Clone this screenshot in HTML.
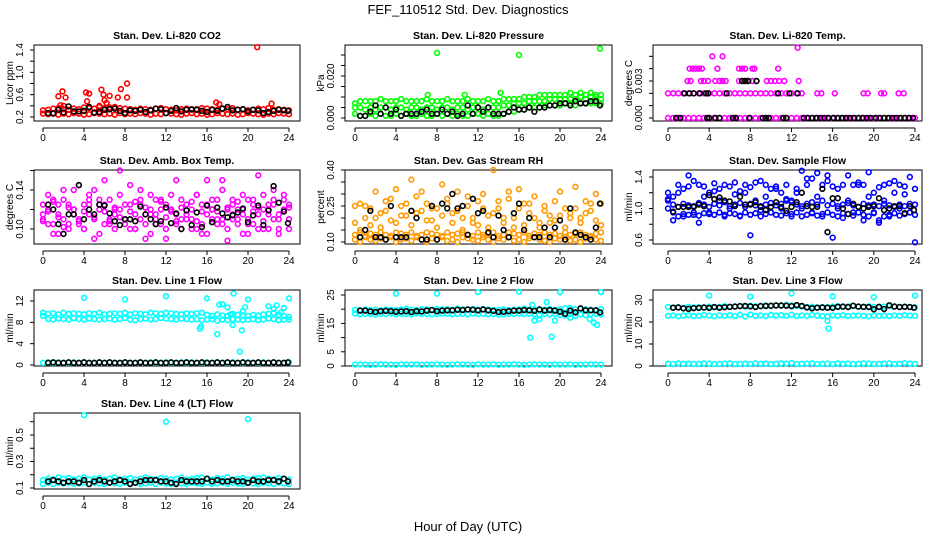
<!DOCTYPE html>
<html><head><meta charset="utf-8"><style>
body{margin:0;background:#fff}
svg{display:block;font-family:"Liberation Sans",Arial,sans-serif}
</style></head><body>
<svg id="chart" width="936" height="540" viewBox="0 0 936 540" xmlns="http://www.w3.org/2000/svg">
<rect width="936" height="540" fill="#fff"/>
<text x="468" y="14" text-anchor="middle" font-size="13">FEF_110512  Std. Dev. Diagnostics</text>
<text x="468" y="531" text-anchor="middle" font-size="13">Hour of Day (UTC)</text>
</svg>
<script>
const HOURS=[0,0.5,1,1.5,2,2.5,3,3.5,4,4.5,5,5.5,6,6.5,7,7.5,8,8.5,9,9.5,10,10.5,11,11.5,12,12.5,13,13.5,14,14.5,15,15.5,16,16.5,17,17.5,18,18.5,19,19.5,20,20.5,21,21.5,22,22.5,23,23.5,24];
const HOURS_B=[0.5,1,1.5,2,2.5,3,3.5,4,4.5,5,5.5,6,6.5,7,7.5,8,8.5,9,9.5,10,10.5,11,11.5,12,12.5,13,13.5,14,14.5,15,15.5,16,16.5,17,17.5,18,18.5,19,19.5,20,20.5,21,21.5,22,22.5,23,23.5,23.9];
const xTicks=[0,4,8,12,16,20,24];

// Panel 1 CO2
const co2Lo=[0.26,0.25,0.27,0.24,0.26,0.25,0.27,0.26,0.24,0.25,0.27,0.26,0.25,0.26,0.24,0.27,0.25,0.26,0.25,0.27,0.26,0.24,0.26,0.25,0.27,0.26,0.25,0.24,0.26,0.27,0.25,0.26,0.24,0.25,0.27,0.26,0.25,0.26,0.24,0.25,0.27,0.26,0.25,0.24,0.26,0.25,0.27,0.26,0.25];
const co2Hi=[0.32,0.33,0.35,0.36,0.34,0.33,0.35,0.34,0.37,0.36,0.35,0.38,0.36,0.37,0.38,0.36,0.35,0.34,0.33,0.35,0.34,0.33,0.35,0.36,0.34,0.33,0.32,0.34,0.35,0.33,0.34,0.36,0.35,0.34,0.33,0.35,0.34,0.36,0.33,0.34,0.32,0.33,0.35,0.34,0.36,0.33,0.34,0.33,0.32];
const co2OutHours=[1.5,1.9,2.2,4.2,4.3,4.5,5.7,5.9,6.0,6.5,7.3,7.6,8.2,8.2,16.9,17.2,20.9,22.3,2.0,5.5,6.2,1.7];
const co2OutVals=[0.57,0.66,0.55,0.64,0.48,0.62,0.69,0.6,0.5,0.58,0.55,0.7,0.8,0.55,0.46,0.43,1.45,0.44,0.4,0.4,0.45,0.41];
const co2Black=[0.27,0.26,0.33,0.28,0.39,0.3,0.3,0.31,0.38,0.28,0.29,0.33,0.34,0.35,0.31,0.27,0.32,0.31,0.33,0.29,0.32,0.35,0.34,0.27,0.31,0.36,0.3,0.33,0.34,0.33,0.31,0.29,0.33,0.31,0.35,0.38,0.32,0.33,0.34,0.3,0.33,0.32,0.27,0.29,0.31,0.33,0.32,0.31];

// Panel 2 Pressure
const prLo=[0.002,0.001,0.001,0.002,0.001,0.002,0.001,0.001,0.002,0.001,0.002,0.001,0.001,0.002,0.001,0.001,0.002,0.001,0.002,0.001,0.002,0.001,0.001,0.002,0.002,0.001,0.002,0.001,0.001,0.002,0.003,0.003,0.004,0.004,0.005,0.005,0.005,0.006,0.006,0.006,0.006,0.007,0.007,0.006,0.007,0.007,0.007,0.007,0.007];
const prMid=[0.005,0.005,0.004,0.005,0.004,0.005,0.005,0.004,0.005,0.005,0.004,0.005,0.005,0.004,0.005,0.005,0.004,0.005,0.005,0.004,0.005,0.005,0.004,0.005,0.005,0.004,0.005,0.005,0.005,0.006,0.006,0.007,0.007,0.007,0.008,0.008,0.008,0.008,0.009,0.009,0.009,0.009,0.009,0.009,0.01,0.009,0.01,0.01,0.009];
const prHi=[0.007,0.008,0.008,0.008,0.008,0.009,0.008,0.008,0.008,0.009,0.008,0.008,0.008,0.008,0.009,0.008,0.008,0.008,0.009,0.008,0.008,0.008,0.009,0.008,0.008,0.008,0.009,0.008,0.008,0.009,0.009,0.009,0.009,0.01,0.01,0.01,0.011,0.011,0.011,0.011,0.011,0.011,0.012,0.011,0.012,0.011,0.012,0.011,0.011];
const prOutHours=[8,16,23.9,10.7,14.2,7.1];
const prOutVals=[0.031,0.030,0.033,0.011,0.012,0.011];
const prBlack=[0.001,0.001,0.003,0.006,0.002,0.005,0.002,0.004,0.001,0.002,0.002,0.002,0.003,0.004,0.002,0.002,0.004,0.002,0.003,0.001,0.002,0.006,0.002,0.005,0.003,0.005,0.002,0.002,0.002,0.003,0.005,0.004,0.004,0.005,0.003,0.005,0.005,0.006,0.006,0.007,0.007,0.006,0.008,0.007,0.007,0.008,0.008,0.006];

// Panel 3 Temp
const tempL0Hours=HOURS;
const tempL2Hours=[0,0.5,1,1.5,2,2.5,3,3.5,4,4.5,5,5.5,6,6.5,7,7.5,8,8.5,9,9.5,10,10.5,11,11.5,12,12.5,13,14.5,14.9,16.2,19,19.4,20.7,21,22.4,22.9];
const tempL3Hours=[1.9,2.2,3.2,3.5,3.9,4.6,5,5.3,5.6,6.9,7.3,7.7,8.2,8.6,9.6,10,10.4,10.8,11.3,12.7];
const tempL4Hours=[2.1,2.4,2.7,3,3.3,4.8,6.9,7.2,7.5,8.2,8.4,10.7];
const tempL5Hours=[4.3,5.3,12.6];
const tempL5Vals=[0.005,0.005,0.0057];
const tempLevels=[0,0.002,0.003,0.004];
const tempBlackL0Hours=[0.8,1.2,3.8,4,4.6,5,6.3,6.6,7.9,9.2,9.5,9.8,11.2,11.5,13.2,13.6,14,14.4,14.8,15.2,15.6,16.1,16.5,16.9,17.3,17.7,18.1,18.5,18.9,19.3,19.7,20.2,20.6,21,21.4,21.8,22.2,22.6,23,23.4,23.8];
const tempBlackL2Hours=[1.6,2.1,2.5,3.1,3.7,3.9,5.7,10.7,11.8,12.6];
const tempBlackL3Hours=[7.2,7.5,7.8,8.6];

// Panel 4 Amb box temp
const ambA=[0.11,0.12,0.105,0.115,0.13,0.1,0.12,0.11,0.125,0.135,0.11,0.12,0.105,0.13,0.115,0.12,0.11,0.125,0.1,0.13,0.115,0.12,0.11,0.105,0.125,0.12,0.115,0.13,0.11,0.12,0.1,0.125,0.115,0.12,0.13,0.11,0.12,0.115,0.105,0.12,0.11,0.125,0.115,0.12,0.1,0.13,0.115,0.12,0.11];
const ambB=[0.125,0.105,0.13,0.095,0.11,0.125,0.14,0.105,0.1,0.115,0.14,0.095,0.125,0.11,0.1,0.135,0.125,0.1,0.115,0.14,0.105,0.095,0.13,0.12,0.1,0.135,0.105,0.11,0.125,0.1,0.135,0.105,0.095,0.13,0.11,0.15,0.1,0.13,0.12,0.095,0.13,0.105,0.1,0.135,0.125,0.11,0.1,0.135,0.125];
const ambC=[0.115,0.135,0.095,0.125,0.14,0.105,0.12,0.145,0.1,0.13,0.09,0.125,0.15,0.105,0.12,0.16,0.11,0.145,0.1,0.125,0.09,0.135,0.115,0.13,0.09,0.12,0.15,0.1,0.125,0.11,0.135,0.095,0.15,0.12,0.105,0.14,0.088,0.125,0.11,0.135,0.095,0.13,0.155,0.1,0.12,0.14,0.095,0.13,0.1];
const ambD=[0.108,0.118,0.128,0.112,0.102,0.122,0.115,0.108,0.118,0.125,0.112,0.13,0.118,0.108,0.122,0.112,0.105,0.118,0.128,0.11,0.122,0.115,0.105,0.128,0.112,0.118,0.108,0.122,0.115,0.128,0.108,0.118,0.125,0.11,0.118,0.105,0.122,0.11,0.128,0.115,0.105,0.118,0.122,0.108,0.115,0.125,0.11,0.118,0.122];
const ambBlack=[0.125,0.12,0.105,0.095,0.115,0.115,0.145,0.11,0.12,0.115,0.125,0.124,0.116,0.108,0.104,0.11,0.11,0.108,0.123,0.115,0.11,0.105,0.108,0.122,0.106,0.116,0.1,0.119,0.104,0.117,0.102,0.124,0.107,0.122,0.116,0.112,0.114,0.117,0.121,0.107,0.114,0.124,0.104,0.119,0.144,0.127,0.118,0.106];

// Panel 5 RH
const rhA=[0.11,0.1,0.12,0.11,0.105,0.115,0.11,0.12,0.1,0.11,0.115,0.105,0.12,0.11,0.1,0.115,0.11,0.12,0.105,0.11,0.1,0.12,0.115,0.11,0.105,0.12,0.11,0.1,0.115,0.11,0.12,0.105,0.11,0.1,0.115,0.12,0.11,0.105,0.1,0.115,0.11,0.12,0.105,0.11,0.1,0.115,0.12,0.11,0.105];
const rhB=[0.13,0.14,0.125,0.135,0.13,0.14,0.13,0.125,0.14,0.135,0.13,0.14,0.125,0.13,0.14,0.135,0.13,0.125,0.14,0.13,0.135,0.14,0.13,0.125,0.14,0.13,0.135,0.14,0.125,0.13,0.14,0.135,0.13,0.14,0.125,0.135,0.13,0.14,0.13,0.135,0.125,0.14,0.13,0.135,0.14,0.13,0.125,0.135,0.14];
const rhC=[0.18,0.26,0.2,0.24,0.31,0.22,0.27,0.19,0.32,0.25,0.21,0.36,0.29,0.23,0.26,0.19,0.24,0.34,0.28,0.22,0.31,0.2,0.25,0.18,0.27,0.3,0.21,0.4,0.24,0.2,0.28,0.16,0.32,0.26,0.22,0.29,0.18,0.25,0.21,0.19,0.31,0.24,0.22,0.33,0.2,0.27,0.23,0.3,0.26];
const rhD=[0.25,0.15,0.25,0.17,0.2,0.16,0.23,0.28,0.18,0.21,0.26,0.17,0.22,0.31,0.19,0.24,0.16,0.21,0.26,0.18,0.23,0.15,0.29,0.2,0.17,0.24,0.16,0.22,0.27,0.18,0.31,0.2,0.24,0.17,0.26,0.2,0.16,0.23,0.18,0.27,0.21,0.16,0.2,0.24,0.18,0.22,0.26,0.19,0.17];
const rhBlack=[0.12,0.15,0.23,0.12,0.12,0.11,0.25,0.12,0.12,0.12,0.23,0.2,0.11,0.11,0.25,0.11,0.26,0.24,0.3,0.24,0.25,0.13,0.28,0.22,0.23,0.14,0.12,0.21,0.15,0.12,0.22,0.26,0.15,0.2,0.12,0.12,0.16,0.12,0.16,0.19,0.11,0.24,0.14,0.13,0.12,0.11,0.16,0.26];

// Panel 6 Sample flow
const sfA=[1.0,0.95,0.9,0.93,0.92,0.95,0.91,0.94,0.93,0.92,0.95,0.9,0.94,0.93,0.91,0.95,0.92,0.94,0.9,0.93,0.95,0.92,0.91,0.94,0.93,0.95,0.9,0.92,0.94,0.91,0.93,0.95,0.92,0.9,0.94,0.93,0.91,0.95,0.92,0.9,0.94,0.85,0.9,0.92,0.94,0.91,0.93,0.95,0.92];
const sfB=[1.1,1.05,1.02,1.06,1.04,1.03,1.07,1.05,1.02,1.06,1.04,1.08,1.03,1.05,1.07,1.02,1.06,1.04,1.03,1.05,1.07,1.04,1.06,1.1,1.08,1.05,1.03,1.06,1.08,1.05,1.1,1.04,1.06,1.03,1.05,1.07,1.04,1.02,1.06,1.04,1.05,1.03,1.06,1.04,1.02,1.05,1.03,1.06,1.05];
const sfC=[1.2,1.15,1.3,1.25,1.42,1.35,1.3,1.28,1.2,1.32,1.25,1.3,1.28,1.33,1.22,1.3,1.27,1.33,1.35,1.3,1.25,1.28,1.2,1.3,1.1,1.25,1.48,1.3,1.38,1.45,1.3,1.42,1.28,1.25,1.3,1.42,1.3,1.33,1.3,1.46,1.2,1.27,1.3,1.32,1.35,1.3,1.28,1.4,1.25];
const sfD=[1.12,0.85,1.2,0.9,1.28,0.92,0.82,1.15,0.95,1.22,1.1,0.92,1.0,1.18,0.9,1.2,0.66,1.1,0.98,1.15,0.95,1.25,1.0,1.12,0.9,1.2,1.0,1.38,0.95,1.15,0.9,1.35,0.63,1.0,0.88,1.1,0.95,1.3,0.85,1.15,0.95,0.82,1.1,0.9,1.2,1.0,1.18,0.95,0.57];
const sfBlack=[0.96,1.02,1.02,1.02,1.02,1.05,1.03,1.17,1.12,1.14,1.1,1.09,1.03,1.15,1.05,1.05,1.08,1.02,0.98,1.02,1.08,1.02,0.97,1.02,1.08,1.2,1.03,1.02,1.02,1.25,0.7,1.13,1.13,1.0,0.93,1.06,1.02,1.0,1.02,1.03,1.13,0.98,1.0,1.03,1.03,0.94,1.03,0.98];

// Panel 7 Line 1
const l1A=[9.2,8.6,8.5,8.7,8.6,8.5,8.8,8.6,8.5,8.7,8.6,8.5,8.6,8.7,8.5,8.6,8.8,8.5,8.4,8.6,8.7,8.5,8.6,8.8,8.7,8.6,8.5,8.7,8.6,8.5,8.6,8.4,8.5,8.6,8.3,8.5,8.4,8.6,8.5,8.4,8.5,8.6,8.4,8.5,8.7,8.6,8.4,8.5,8.5];
const l1B=[9.8,9.6,9.7,9.5,9.8,9.6,9.7,9.6,9.5,9.7,9.6,9.8,9.5,9.6,9.7,9.6,9.8,9.5,9.7,9.6,9.5,9.8,9.7,9.6,9.8,9.7,9.6,9.5,9.7,9.6,9.7,9.8,9.4,9.2,9.5,9.3,9.2,9.6,9.4,9.3,9.2,9.4,9.3,9.5,9.6,9.8,9.4,9.2,9.0];
const l1Lo=[0.4,0.5,0.4,0.5,0.4,0.4,0.5,0.4,0.5,0.4,0.4,0.5,0.4,0.5,0.4,0.4,0.5,0.4,0.4,0.5,0.4,0.5,0.4,0.4,0.5,0.4,0.4,0.5,0.4,0.5,0.4,0.4,0.5,0.4,0.5,0.4,0.4,0.5,0.4,0.4,0.5,0.4,0.4,0.5,0.4,0.5,0.4,0.4,0.5];
const l1OutHours=[4,8,12,16,15.3,15.4,17,17.2,17.5,18,18.3,18.5,18.6,19.2,19.4,19.5,19.7,20,22,22.5,22.8,23.2,23.5,24];
const l1OutVals=[12.6,12.3,12.9,12.5,6.8,7.2,5.8,11.3,11.4,10.8,9.5,7.5,13.4,2.5,6.5,10.1,10.8,12.3,11,10.5,11.2,9.8,10.7,12.5];
const l1Black=[0.4,0.5,0.4,0.4,0.5,0.4,0.4,0.5,0.4,0.4,0.5,0.4,0.5,0.4,0.4,0.5,0.4,0.4,0.5,0.4,0.4,0.5,0.4,0.4,0.5,0.4,0.4,0.5,0.4,0.4,0.5,0.4,0.4,0.5,0.4,0.5,0.4,0.4,0.5,0.4,0.4,0.5,0.4,0.4,0.5,0.4,0.4,0.5];

// Panel 8 Line 2
const l2A=[18.5,18.2,18.4,18.3,18.1,18.4,18.3,18.5,18.2,18.4,18.3,18.2,18.5,18.3,18.4,18.2,18.3,18.5,18.4,18.2,18.3,18.4,18.2,18.5,18.3,18.4,18.2,18.3,18.1,18.2,18.4,18.3,18.5,18.3,18.4,18.2,17.8,18.3,18.2,18.4,18.0,17.8,18.3,17.6,18.2,17.9,18.3,18.4,18.2];
const l2B=[19.8,19.6,19.9,19.7,19.8,19.6,19.9,19.8,19.7,19.9,20.1,19.8,19.7,20.0,19.9,19.8,20.1,19.9,20.0,19.8,20.2,20.0,19.9,20.1,19.8,20.0,19.9,19.7,19.8,19.9,19.7,19.8,19.9,20.2,19.8,20.0,19.7,19.9,20.1,19.8,20.0,20.3,20.4,19.9,20.1,20.0,19.8,19.7,20.0];
const l2Lo=[0.5,0.6,0.5,0.4,0.5,0.6,0.5,0.5,0.4,0.6,0.5,0.5,0.6,0.4,0.5,0.5,0.6,0.5,0.4,0.5,0.6,0.5,0.5,0.4,0.6,0.5,0.5,0.6,0.4,0.5,0.5,0.6,0.5,0.4,0.5,0.6,0.5,0.5,0.4,0.6,0.5,0.5,0.6,0.4,0.5,0.5,0.6,0.5,0.5];
const l2OutHours=[4,8,12,16,20,24,17.1,19.2,17.3,17.5,18,18.7,19.5,21,22.9,23.3,23.6];
const l2OutVals=[25.5,25.5,26,26.2,26,26,10,10.3,21.5,16,16.5,22.5,16,17,16.5,15.3,14.5];
const l2Black=[19.5,19.5,19.2,19.0,19.3,19.4,19.3,19.1,19.2,19.3,19.0,19.3,19.2,19.5,19.7,19.3,19.5,19.6,19.6,19.8,19.7,19.9,19.8,19.6,19.9,19.6,19.4,19.0,19.1,19.3,19.5,19.5,19.7,19.6,19.4,19.9,19.5,19.7,19.5,19.1,18.4,19.5,18.9,20.3,19.6,19.6,19.6,18.9];

// Panel 9 Line 3
const l3A=[22.8,23.0,22.6,22.9,23.1,22.7,22.8,23.2,22.9,22.6,23.0,22.8,23.1,22.7,23.3,22.5,23.4,22.8,23.0,22.7,23.2,22.9,23.1,22.8,23.3,22.7,23.0,22.8,23.2,22.9,22.7,22.5,23.0,22.8,23.1,22.7,22.9,23.0,22.8,22.6,23.0,22.8,22.9,22.7,23.0,22.8,23.1,22.9,22.8];
const l3B=[26.8,26.5,26.7,26.4,26.9,26.6,26.8,26.5,27.0,26.7,26.9,27.2,26.8,27.1,27.3,27.0,27.4,27.1,27.3,27.5,27.2,27.6,27.4,27.8,27.5,27.3,27.1,26.8,26.9,26.6,26.8,26.7,27.0,27.2,26.9,27.1,27.3,27.0,26.8,27.1,26.9,26.7,27.0,27.3,27.1,26.9,27.0,26.8,26.7];
const l3Lo=[1.1,0.9,1.2,1.0,1.1,0.9,1.0,1.2,1.1,0.9,1.0,1.1,1.2,0.9,1.0,1.1,0.9,1.2,1.0,1.1,0.9,1.0,1.2,1.1,1.3,0.9,1.0,1.1,1.2,0.9,1.0,1.1,0.9,1.2,1.0,1.1,0.9,1.0,1.2,1.1,0.9,1.0,1.1,1.2,0.9,1.0,1.3,1.1,1.0];
const l3OutHours=[4,8,12,16,20,24,15.5,15.6];
const l3OutVals=[32,31.5,33,31.7,31.3,32,20.5,17];
const l3Black=[26.5,26.6,26.2,26.0,26.3,26.4,26.6,26.4,26.8,26.5,26.7,26.9,27.0,27.2,27.3,27.1,26.8,27.2,27.3,27.4,27.5,27.5,27.4,27.2,27.7,27.3,26.6,26.2,26.5,26.6,26.5,26.4,26.9,27.0,26.8,27.4,27.0,26.9,26.8,25.8,26.9,25.9,27.6,27.0,26.8,26.9,26.8,26.5];

// Panel 10 Line 4
const l4A=[0.13,0.14,0.13,0.14,0.135,0.14,0.13,0.135,0.14,0.13,0.14,0.135,0.13,0.14,0.135,0.13,0.14,0.135,0.14,0.13,0.135,0.14,0.13,0.14,0.135,0.13,0.14,0.135,0.13,0.14,0.135,0.13,0.14,0.13,0.135,0.14,0.13,0.14,0.135,0.13,0.14,0.135,0.13,0.14,0.135,0.13,0.14,0.135,0.13];
const l4B=[0.16,0.17,0.165,0.18,0.17,0.175,0.165,0.17,0.18,0.165,0.17,0.175,0.165,0.17,0.18,0.165,0.17,0.175,0.165,0.17,0.18,0.17,0.165,0.175,0.17,0.165,0.17,0.18,0.165,0.17,0.175,0.18,0.17,0.165,0.175,0.17,0.18,0.165,0.17,0.175,0.165,0.17,0.175,0.18,0.17,0.165,0.175,0.17,0.165];
const l4OutHours=[4,12,20];
const l4OutVals=[0.65,0.6,0.62];
const l4Black=[0.15,0.16,0.15,0.14,0.15,0.15,0.14,0.16,0.13,0.15,0.16,0.15,0.14,0.15,0.16,0.15,0.13,0.14,0.15,0.16,0.16,0.16,0.15,0.15,0.14,0.13,0.16,0.15,0.15,0.15,0.15,0.17,0.15,0.16,0.15,0.15,0.16,0.15,0.15,0.14,0.16,0.15,0.15,0.16,0.16,0.15,0.17,0.15];

const svg=document.getElementById('chart');
const NS='http://www.w3.org/2000/svg';
function mk(tag,attrs,parent){const e=document.createElementNS(NS,tag);for(const k in attrs)e.setAttribute(k,attrs[k]);(parent||svg).appendChild(e);return e;}

const COLS=[{bl:34,br:300,x0:43,x24:289},{bl:345,br:612,x0:355,x24:601},{bl:653,br:922,x0:668,x24:915}];
const ROWS=[{bt:45,bb:121},{bt:170,bb:244},{bt:290,bb:366},{bt:413,bb:489}];

function panel(p){
  const c=COLS[p.col], r=ROWS[p.row];
  const g=mk('g',{});
  
  
  const xs=h=>c.x0+(h/24)*(c.x24-c.x0);
  const ys=v=>p.py0+(v-p.v0)/(p.v1-p.v0)*(p.py1-p.py0);
  const box=mk('rect',{x:c.bl,y:r.bt,width:c.br-c.bl,height:r.bb-r.bt,fill:'none',stroke:'#000','stroke-width':1},g);
  
  
  const t=mk('text',{x:(c.bl+c.br)/2,y:r.bt-6,'text-anchor':'middle','font-size':10.5,'font-weight':'bold'},g);
  t.textContent=p.title;
  
  
  const ay=r.bb+7;
  const xa=mk('g',{},g);
  
  
  mk('line',{x1:xs(0),x2:xs(24),y1:ay,y2:ay,stroke:'#000'},xa);
  xTicks.forEach(h=>{mk('line',{x1:xs(h),x2:xs(h),y1:ay,y2:ay+4,stroke:'#000'},xa);
    const l=mk('text',{x:xs(h),y:r.bb+20,'text-anchor':'middle','font-size':10},xa);l.textContent=h;});
  const ya=mk('g',{},g);
  
  
  mk('line',{x1:c.bl,x2:c.bl,y1:ys(p.ticks[0]),y2:ys(p.ticks[p.ticks.length-1]),stroke:'#000'},ya);
  p.ticks.forEach(v=>mk('line',{x1:c.bl-4,x2:c.bl,y1:ys(v),y2:ys(v),stroke:'#000'},ya));
  const lx=c.bl-11;
  p.labels.forEach((lab,i)=>{const y=ys(p.labelVals[i]);const l=mk('text',{x:lx,y:y,'text-anchor':'middle','font-size':10,transform:`rotate(-90 ${lx} ${y})`},ya);l.textContent=lab;});
  const tx=c.bl-21, ty=(r.bt+r.bb)/2;
  const yt=mk('text',{x:tx,y:ty,'text-anchor':'middle','font-size':10,transform:`rotate(-90 ${tx} ${ty})`},g);
  yt.textContent=p.ylabel;
  
  
  p.series.forEach(s=>{
    const sg=mk('g',{fill:'none',stroke:s.color,'stroke-width':1.6},g);
    
    
    s.h.forEach((h,i)=>{const pt=mk('circle',{cx:xs(h).toFixed(2),cy:ys(s.v[i]).toFixed(2),r:2.4},sg);
      
      });
  });
}
const lvl=(hours,v)=>hours.map(()=>v);

panel({name:'panel-li820-co2',col:0,row:0,title:'Stan. Dev. Li-820 CO2',ylabel:'Licor ppm',v0:0.2,v1:1.4,py0:117,py1:50,
 ticks:[0.2,0.4,0.6,0.8,1.0,1.2,1.4],labels:['0.2','0.6','1.0','1.4'],labelVals:[0.2,0.6,1.0,1.4],
 series:[{name:'co2-low',color:'#f00',h:HOURS,v:co2Lo},{name:'co2-high',color:'#f00',h:HOURS,v:co2Hi},{name:'co2-outliers',color:'#f00',h:co2OutHours,v:co2OutVals},{name:'co2-hourly',color:'#000',h:HOURS_B,v:co2Black}]});
panel({name:'panel-li820-pressure',col:1,row:0,title:'Stan. Dev. Li-820 Pressure',ylabel:'kPa',v0:0,v1:0.02,py0:118,py1:76,
 ticks:[0,0.005,0.01,0.015,0.02,0.025,0.03],labels:['0.000','0.020'],labelVals:[0,0.02],
 series:[{name:'pressure-low',color:'#0f0',h:HOURS,v:prLo},{name:'pressure-mid',color:'#0f0',h:HOURS,v:prMid},{name:'pressure-high',color:'#0f0',h:HOURS,v:prHi},{name:'pressure-outliers',color:'#0f0',h:prOutHours,v:prOutVals},{name:'pressure-hourly',color:'#000',h:HOURS_B,v:prBlack}]});
panel({name:'panel-li820-temp',col:2,row:0,title:'Stan. Dev. Li-820 Temp.',ylabel:'degrees C',v0:0,v1:0.003,py0:118,py1:81,
 ticks:[0,0.001,0.002,0.003,0.004,0.005],labels:['0.000','0.003'],labelVals:[0,0.003],
 series:[{name:'temp-level0',color:'#f0f',h:tempL0Hours,v:lvl(tempL0Hours,tempLevels[0])},{name:'temp-level2',color:'#f0f',h:tempL2Hours,v:lvl(tempL2Hours,tempLevels[1])},{name:'temp-level3',color:'#f0f',h:tempL3Hours,v:lvl(tempL3Hours,tempLevels[2])},{name:'temp-level4',color:'#f0f',h:tempL4Hours,v:lvl(tempL4Hours,tempLevels[3])},{name:'temp-level5',color:'#f0f',h:tempL5Hours,v:tempL5Vals},
  {name:'temp-hourly-0',color:'#000',h:tempBlackL0Hours,v:lvl(tempBlackL0Hours,tempLevels[0])},{name:'temp-hourly-2',color:'#000',h:tempBlackL2Hours,v:lvl(tempBlackL2Hours,tempLevels[1])},{name:'temp-hourly-3',color:'#000',h:tempBlackL3Hours,v:lvl(tempBlackL3Hours,tempLevels[2])}]});
panel({name:'panel-amb-box-temp',col:0,row:1,title:'Stan. Dev. Amb. Box Temp.',ylabel:'degrees C',v0:0.10,v1:0.14,py0:229,py1:190,
 ticks:[0.10,0.12,0.14,0.16],labels:['0.10','0.14'],labelVals:[0.10,0.14],
 series:[{name:'amb-a',color:'#f0f',h:HOURS,v:ambA},{name:'amb-b',color:'#f0f',h:HOURS,v:ambB},{name:'amb-c',color:'#f0f',h:HOURS,v:ambC},{name:'amb-d',color:'#f0f',h:HOURS,v:ambD},{name:'amb-hourly',color:'#000',h:HOURS_B,v:ambBlack}]});
panel({name:'panel-gas-stream-rh',col:1,row:1,title:'Stan. Dev. Gas Stream RH',ylabel:'percent',v0:0.10,v1:0.40,py0:242,py1:170,
 ticks:[0.10,0.15,0.20,0.25,0.30,0.35,0.40],labels:['0.10','0.25','0.40'],labelVals:[0.10,0.25,0.40],
 series:[{name:'rh-a',color:'#ff9a00',h:HOURS,v:rhA},{name:'rh-b',color:'#ff9a00',h:HOURS,v:rhB},{name:'rh-c',color:'#ff9a00',h:HOURS,v:rhC},{name:'rh-d',color:'#ff9a00',h:HOURS,v:rhD},{name:'rh-hourly',color:'#000',h:HOURS_B,v:rhBlack}]});
panel({name:'panel-sample-flow',col:2,row:1,title:'Stan. Dev. Sample Flow',ylabel:'ml/min',v0:0.6,v1:1.4,py0:240,py1:177,
 ticks:[0.6,0.8,1.0,1.2,1.4],labels:['0.6','1.0','1.4'],labelVals:[0.6,1.0,1.4],
 series:[{name:'flow-a',color:'#00f',h:HOURS,v:sfA},{name:'flow-b',color:'#00f',h:HOURS,v:sfB},{name:'flow-c',color:'#00f',h:HOURS,v:sfC},{name:'flow-d',color:'#00f',h:HOURS,v:sfD},{name:'flow-hourly',color:'#000',h:HOURS_B,v:sfBlack}]});
panel({name:'panel-line1-flow',col:0,row:2,title:'Stan. Dev. Line 1 Flow',ylabel:'ml/min',v0:0,v1:12,py0:365,py1:301,
 ticks:[0,4,8,12],labels:['0','4','8','12'],labelVals:[0,4,8,12],
 series:[{name:'line1-a',color:'#0ff',h:HOURS,v:l1A},{name:'line1-b',color:'#0ff',h:HOURS,v:l1B},{name:'line1-low',color:'#0ff',h:HOURS,v:l1Lo},{name:'line1-outliers',color:'#0ff',h:l1OutHours,v:l1OutVals},{name:'line1-hourly',color:'#000',h:HOURS_B,v:l1Black}]});
panel({name:'panel-line2-flow',col:1,row:2,title:'Stan. Dev. Line 2 Flow',ylabel:'ml/min',v0:0,v1:25,py0:366,py1:295,
 ticks:[0,5,10,15,20,25],labels:['0','5','15','25'],labelVals:[0,5,15,25],
 series:[{name:'line2-a',color:'#0ff',h:HOURS,v:l2A},{name:'line2-b',color:'#0ff',h:HOURS,v:l2B},{name:'line2-low',color:'#0ff',h:HOURS,v:l2Lo},{name:'line2-outliers',color:'#0ff',h:l2OutHours,v:l2OutVals},{name:'line2-hourly',color:'#000',h:HOURS_B,v:l2Black}]});
panel({name:'panel-line3-flow',col:2,row:2,title:'Stan. Dev. Line 3 Flow',ylabel:'ml/min',v0:0,v1:30,py0:366,py1:300,
 ticks:[0,10,20,30],labels:['0','10','20','30'],labelVals:[0,10,20,30],
 series:[{name:'line3-a',color:'#0ff',h:HOURS,v:l3A},{name:'line3-b',color:'#0ff',h:HOURS,v:l3B},{name:'line3-low',color:'#0ff',h:HOURS,v:l3Lo},{name:'line3-outliers',color:'#0ff',h:l3OutHours,v:l3OutVals},{name:'line3-hourly',color:'#000',h:HOURS_B,v:l3Black}]});
panel({name:'panel-line4-flow',col:0,row:3,title:'Stan. Dev. Line 4 (LT) Flow',ylabel:'ml/min',v0:0.1,v1:0.5,py0:488,py1:435,
 ticks:[0.1,0.2,0.3,0.4,0.5,0.6],labels:['0.1','0.3','0.5'],labelVals:[0.1,0.3,0.5],
 series:[{name:'line4-a',color:'#0ff',h:HOURS,v:l4A},{name:'line4-b',color:'#0ff',h:HOURS,v:l4B},{name:'line4-outliers',color:'#0ff',h:l4OutHours,v:l4OutVals},{name:'line4-hourly',color:'#000',h:HOURS_B,v:l4Black}]});
</script>
</body></html>
